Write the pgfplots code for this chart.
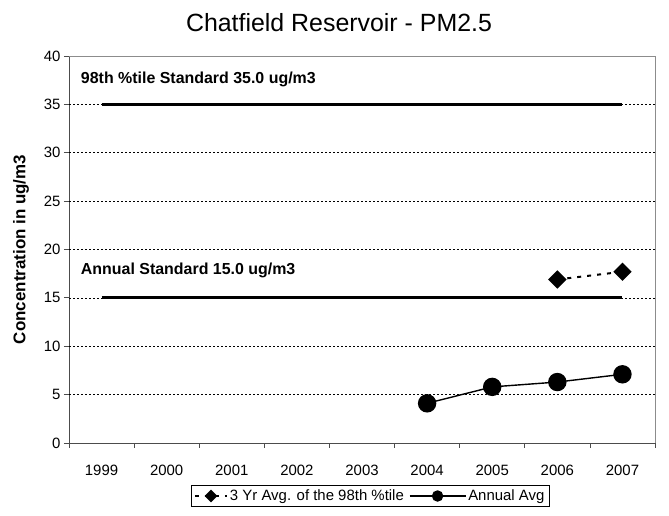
\documentclass[border=0pt]{standalone}
\usepackage{fontspec}
\setmainfont{Liberation Sans}
\usepackage{pgfplots}
\pgfplotsset{compat=1.18}
\begin{document}
\begin{tikzpicture}[x=1bp,y=1bp]
\path[use as bounding box] (-69,-73) rectangle (600,443);
\begin{axis}[
  at={(0,0)}, anchor=south west,
  scale only axis, width=586bp, height=387bp,
  xmin=-0.5, xmax=8.5, ymin=0, ymax=40,
  axis lines=left, axis line style={-, black!70, line width=0.8bp},
  xtick={0,1,2,3,4,5,6,7,8},
  xticklabels={1999,2000,2001,2002,2003,2004,2005,2006,2007},
  major x tick style={draw=none},
  minor xtick={-0.5,0.5,1.5,2.5,3.5,4.5,5.5,6.5,7.5,8.5},
  minor x tick style={black!70, line width=0.8bp},
  minor tick length=5bp,
  ytick={0,5,...,40},
  major tick length=5bp,
  y tick style={black!70, line width=0.8bp},
  tick align=outside,
  extra y ticks={5,10,...,35},
  extra y tick labels={},
  extra y tick style={grid=major, major tick length=0pt},
  grid style={black, line width=0.6bp, dash pattern=on 2bp off 2bp},
  /pgf/number format/assume math mode=true,
  ticklabel style={font=\fontsize{15}{17}\selectfont},
  xticklabel style={yshift=-14bp},
  ylabel={Concentration in ug/m3},
  every axis y label/.style={at={(axis description cs:-0.082,0.5)}, rotate=90, anchor=center,
    font=\fontsize{17}{19}\selectfont\bfseries},
  legend columns=2,
  legend style={at={(0.514,-0.137)}, anchor=center, draw=black, line width=0.6bp,
    font=\fontsize{15}{17}\selectfont, inner sep=2.5bp,
    /tikz/every even column/.append style={column sep=3bp}},
  clip=false,
]
\draw[black!45, line width=0.8bp] (rel axis cs:0,1) -- (rel axis cs:1,1) -- (rel axis cs:1,0);
% standards
\addplot[black, line width=3bp, forget plot] coordinates {(0,35) (8,35)};
\addplot[black, line width=3bp, forget plot] coordinates {(0,15) (8,15)};
\node[anchor=west, font=\fontsize{16}{18}\selectfont\bfseries] at (axis cs:-0.37,37.6) {98th \%tile Standard 35.0 ug/m3};
\node[anchor=west, font=\fontsize{16}{18}\selectfont\bfseries] at (axis cs:-0.37,17.8) {Annual Standard 15.0 ug/m3};
% series
\addplot[black, line width=2bp, dash pattern=on 4bp off 6bp, mark=square*, mark size=5.5bp,
  mark options={solid, rotate=45},
  legend image code/.code={\draw[mark repeat=2,mark phase=2, mark size=3.5bp]
    plot coordinates {(0bp,0bp) (16bp,0bp) (32bp,0bp)};}]
  coordinates {(7,16.9) (8,17.7)};
\addlegendentry{3 Yr Avg. of the 98th \%tile}
\addplot[black, line width=1.4bp, mark=*, mark size=8.5bp,
  legend image code/.code={\draw[mark repeat=2,mark phase=2, mark size=5bp]
    plot coordinates {(0bp,0bp) (28bp,0bp) (56bp,0bp)};}]
  coordinates {(5,4.1) (6,5.8) (7,6.3) (8,7.1)};
\addlegendentry{Annual Avg}
\end{axis}
\node[font=\fontsize{25}{30}\selectfont] at (270,420) {Chatfield Reservoir - PM2.5};
\end{tikzpicture}
\end{document}
